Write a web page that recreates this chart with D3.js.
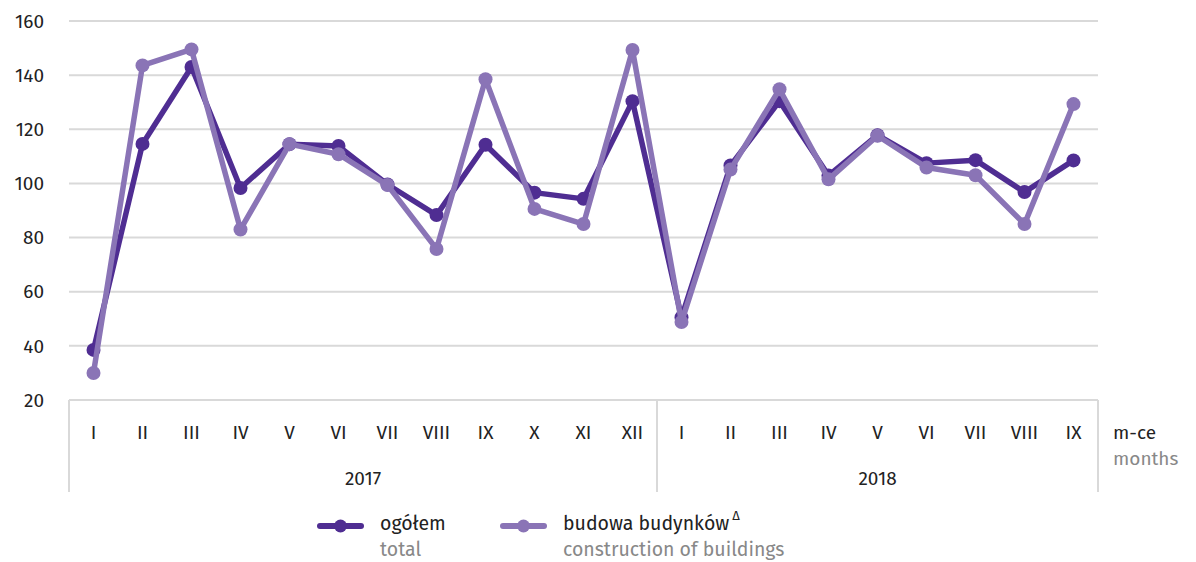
<!DOCTYPE html>
<html>
<head>
<meta charset="utf-8">
<script src="https://cdn.jsdelivr.net/npm/d3@7"></script>
<style>
  body { margin: 0; background: #fff; }
  text { font-family: "Fira Sans", "Noto Sans", sans-serif; }
</style>
</head>
<body>
<div id="chart"></div>
<script>
// months (roman numerals) and years
var months = ["I", "II", "III", "IV", "V", "VI", "VII", "VIII", "IX", "X", "XI", "XII",
              "I", "II", "III", "IV", "V", "VI", "VII", "VIII", "IX"];
var years = [{ label: "2017", from: 0, to: 12 }, { label: "2018", from: 12, to: 21 }];

// ogółem / total
var totalVals = [38.5, 114.6, 143.0, 98.3, 114.5, 113.8, 99.6, 88.3, 114.3, 96.6, 94.3, 130.4,
                 50.5, 106.6, 130.4, 102.9, 117.8, 107.5, 108.6, 96.8, 108.5];
// budowa budynków / construction of buildings
var buildVals = [30.0, 143.6, 149.5, 83.0, 114.5, 110.8, 99.4, 75.8, 138.5, 90.6, 85.0, 149.3,
                 48.8, 105.1, 134.8, 101.5, 117.6, 105.9, 103.0, 85.0, 129.3];
var yTicks = [20, 40, 60, 80, 100, 120, 140, 160];

var W = 1196, H = 562;
var plotLeft = 69, plotRight = 1098, plotTop = 21, plotBottom = 400;
var darkCol = "#4f2d92", lightCol = "#8a74b6", gridCol = "#d9d9d9";

var svg = d3.select("#chart").append("svg")
    .attr("width", W)
    .attr("height", H);

var x = d3.scaleBand()
    .domain(d3.range(months.length))
    .range([plotLeft, plotRight]);

var y = d3.scaleLinear()
    .domain([20, 160])
    .range([plotBottom, plotTop]);

// gridlines
svg.append("g").selectAll("line")
    .data(yTicks)
    .enter()
    .append("line")
    .attr("x1", plotLeft)
    .attr("x2", plotRight)
    .attr("y1", function (d) { return y(d) })
    .attr("y2", function (d) { return y(d) })
    .attr("stroke", gridCol)
    .attr("stroke-width", 2);

// y tick labels
svg.append("g").selectAll("text")
    .data(yTicks)
    .enter()
    .append("text")
    .attr("x", 44)
    .attr("y", function (d) { return y(d) })
    .attr("dy", "0.35em")
    .attr("text-anchor", "end")
    .attr("font-size", 19)
    .attr("fill", "#222")
    .text(function (d) { return d });

// category axis separators
var seps = [0, 12, 21];
svg.append("g").selectAll("line")
    .data(seps)
    .enter()
    .append("line")
    .attr("x1", function (d) { return d < months.length ? x(d) : plotRight })
    .attr("x2", function (d) { return d < months.length ? x(d) : plotRight })
    .attr("y1", plotBottom)
    .attr("y2", 492)
    .attr("stroke", gridCol)
    .attr("stroke-width", 2);

// month labels
svg.append("g").selectAll("text")
    .data(months)
    .enter()
    .append("text")
    .attr("x", function (d, i) { return x(i) + x.bandwidth() / 2 })
    .attr("y", 439)
    .attr("text-anchor", "middle")
    .attr("font-size", 19)
    .attr("fill", "#222")
    .text(function (d) { return d });

// year labels
svg.append("g").selectAll("text")
    .data(years)
    .enter()
    .append("text")
    .attr("x", function (d) {
        var a = x(d.from);
        var b = d.to < months.length ? x(d.to) : plotRight;
        return (a + b) / 2;
    })
    .attr("y", 485)
    .attr("text-anchor", "middle")
    .attr("font-size", 19)
    .attr("fill", "#222")
    .text(function (d) { return d.label });

svg.append("text")
    .attr("x", 1113).attr("y", 439)
    .attr("font-size", 19).attr("fill", "#222")
    .text("m-ce");
svg.append("text")
    .attr("x", 1113).attr("y", 465)
    .attr("font-size", 19).attr("fill", "#888")
    .text("months");

// series
var line = d3.line()
    .x(function (d, i) { return x(i) + x.bandwidth() / 2 })
    .y(function (d) { return y(d) });

function drawSeries(vals, col) {
    svg.append("path")
        .datum(vals)
        .attr("fill", "none")
        .attr("stroke", col)
        .attr("stroke-width", 5.5)
        .attr("stroke-linejoin", "round")
        .attr("d", line);
    svg.append("g").selectAll("circle")
        .data(vals)
        .enter()
        .append("circle")
        .attr("cx", function (d, i) { return x(i) + x.bandwidth() / 2 })
        .attr("cy", function (d) { return y(d) })
        .attr("r", 7)
        .attr("fill", col);
}
drawSeries(totalVals, darkCol);
drawSeries(buildVals, lightCol);

// legend
function legendItem(x0, col, main, sub, sup) {
    var g = svg.append("g");
    g.append("line")
        .attr("x1", x0).attr("x2", x0 + 41)
        .attr("y1", 526).attr("y2", 526)
        .attr("stroke", col).attr("stroke-width", 6)
        .attr("stroke-linecap", "round");
    g.append("circle")
        .attr("cx", x0 + 20.5).attr("cy", 526)
        .attr("r", 6.5).attr("fill", col);
    var t = g.append("text")
        .attr("x", x0 + 60).attr("y", 530)
        .attr("font-size", 19.5).attr("fill", "#222")
        .text(main);
    if (sup) {
        t.append("tspan")
            .attr("dx", 3).attr("dy", -10)
            .attr("font-size", 13)
            .text(sup);
    }
    g.append("text")
        .attr("x", x0 + 60).attr("y", 556)
        .attr("font-size", 19.5).attr("fill", "#888")
        .text(sub);
}
legendItem(320, darkCol, "ogółem", "total");
legendItem(503, lightCol, "budowa budynków", "construction of buildings", "\u0394");
</script>
</body>
</html>
